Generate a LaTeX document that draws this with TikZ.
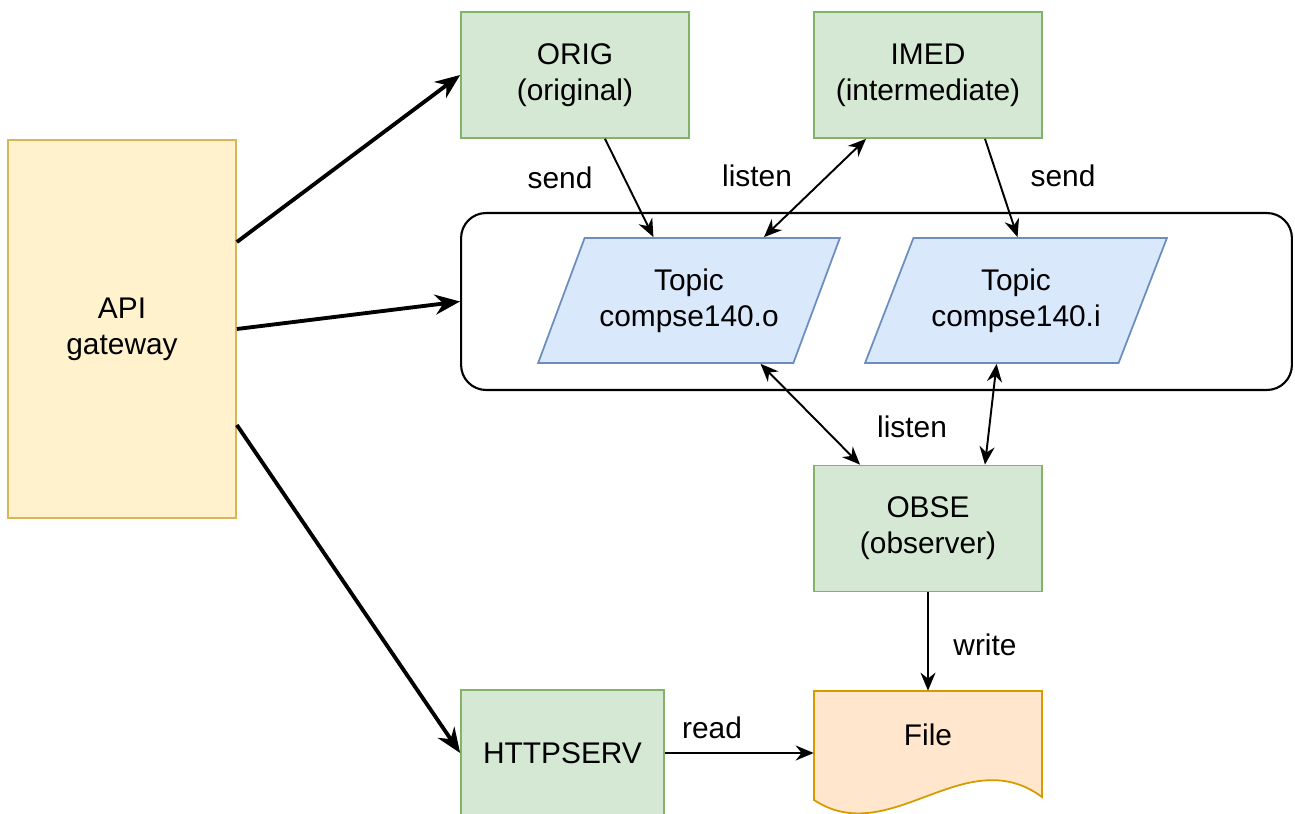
\documentclass[tikz,border=0pt]{standalone}
\usepackage{fontspec}
\setmainfont{Liberation Sans}
\usepackage{xcolor}
\definecolor{svcfill}{RGB}{213,232,212}
\definecolor{svcline}{RGB}{130,179,102}
\definecolor{gatefill}{RGB}{255,242,204}
\definecolor{gateline}{RGB}{214,182,86}
\definecolor{topicfill}{RGB}{218,232,252}
\definecolor{topicline}{RGB}{108,142,191}
\definecolor{filefill}{RGB}{255,230,204}
\definecolor{fileline}{RGB}{215,155,0}
\usetikzlibrary{arrows.meta,shapes.geometric,calc}

\tikzset{
    svc/.style={draw=svcline, fill=svcfill, line width=1pt, minimum width=4.56cm,
        minimum height=2.52cm, align=center, inner sep=0pt},
    gate/.style={draw=gateline, fill=gatefill, line width=1pt, minimum width=4.56cm,
        minimum height=7.56cm, align=center, inner sep=0pt},
    bus/.style={draw=black, line width=1.2pt, rounded corners=0.5cm,
        minimum width=16.62cm, minimum height=3.54cm, inner sep=0pt},
    topic/.style={trapezium, trapezium left angle=58, trapezium right angle=122,
        trapezium stretches=true, draw=topicline, fill=topicfill, line width=1pt,
        minimum width=6.04cm, minimum height=2.5cm, align=center, inner sep=0pt},
    fileshape/.style={draw=fileline, fill=filefill, line width=1pt},
    thickarrow/.style={-{Stealth[length=0.5cm,width=0.4cm]}, line width=2.2pt},
    thinarrow/.style={-{Stealth[length=0.36cm,width=0.3cm]}, line width=1.1pt},
    twoway/.style={{Stealth[length=0.36cm,width=0.3cm]}-{Stealth[length=0.36cm,width=0.3cm]}, line width=1.1pt}
}

\begin{document}
\begin{tikzpicture}[x=0.02cm, y=-0.02cm, every node/.style={font=\fontsize{17}{20.5}\selectfont}]
    \useasboundingbox (0,0) rectangle (1295,814);

    \node[gate] (api) at (122,329) {API\\gateway};
    \node[svc] (orig) at (575,75) {ORIG\\(original)};
    \node[svc] (imed) at (928,75) {IMED\\(intermediate)};
    \node[bus] (bus) at (876.5,301.5) {};
    \node[topic] (topo) at (689,300.5) {Topic\\compse140.o};
    \node[topic] (topi) at (1016,300.5) {Topic\\compse140.i};
    \node[svc] (obse) at (928,528.5) {OBSE\\(observer)};
    \node[svc, minimum width=4.06cm] (http) at (562.5,753) {HTTPSERV};

    \draw[fileshape] (814,691) -- (1042,691) -- (1042,797)
        .. controls (965,740) and (890,850) .. (814,800) -- cycle;
    \node[minimum width=4.56cm, minimum height=1.76cm, inner sep=0pt] (file) at (928,735) {File};

    \node (sendo) at (560,178) {send};
    \node (listeni) at (757,176) {listen};
    \node (sendi) at (1063,176) {send};
    \node (listenb) at (912,427) {listen};
    \node (write) at (985,645) {write};
    \node (read) at (712,728) {read};

    \draw[thickarrow] ([yshift=1.74cm]api.east) -- (orig.west);
    \draw[thickarrow] (api.east) -- (bus.west);
    \draw[thickarrow] ([yshift=-1.92cm]api.east) -- (http.west);

    \draw[thinarrow] ([xshift=0.6cm]orig.south) -- ($(topo.top left corner)!0.27!(topo.top right corner)$);
    \draw[twoway] ($(topo.top left corner)!0.7!(topo.top right corner)$) -- ([xshift=-1.24cm]imed.south);
    \draw[thinarrow] ([xshift=1.14cm]imed.south) -- ($(topi.top left corner)!0.41!(topi.top right corner)$);
    \draw[twoway] ($(topo.bottom left corner)!0.87!(topo.bottom right corner)$) -- ([xshift=-1.36cm]obse.north);
    \draw[twoway] ($(topi.bottom left corner)!0.52!(topi.bottom right corner)$) -- ([xshift=1.14cm]obse.north);
    \draw[thinarrow] (obse.south) -- (file.north);
    \draw[thinarrow] (http.east) -- (file.west |- http.east);
\end{tikzpicture}
\end{document}
